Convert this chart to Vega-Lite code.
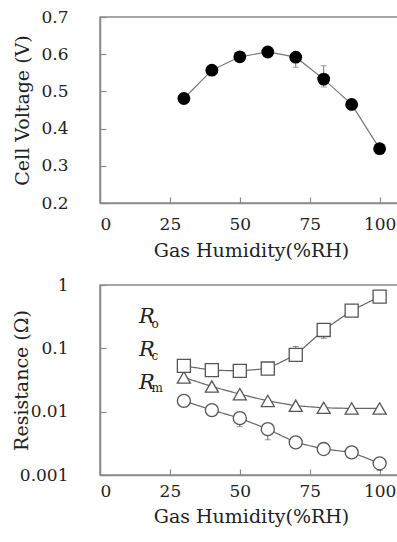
{
  "$schema": "https://vega.github.io/schema/vega-lite/v6.json",
  "padding": {"left": 12, "top": 7, "right": 0, "bottom": 0},
  "background": "white",
  "config": {
    "font": "DejaVu Serif",
    "view": {"stroke": "#8a8a8a", "strokeWidth": 1.5},
    "axis": {
      "grid": false,
      "domainColor": "#8a8a8a",
      "domainWidth": 1.5,
      "tickColor": "#8a8a8a",
      "tickSize": -6,
      "tickWidth": 1.2,
      "labelOverlap": false,
      "labelFont": "DejaVu Serif",
      "labelFontSize": 17,
      "labelColor": "#222",
      "titleFont": "DejaVu Serif",
      "titleFontSize": 19,
      "titleFontWeight": "normal",
      "titleColor": "#222"
    },
    "legend": {"padding": 0},
    "concat": {"spacing": 14}
  },
  "resolve": {
    "scale": {"shape": "independent", "strokeDash": "independent"},
    "legend": {"shape": "independent", "strokeDash": "independent"}
  },
  "datasets": {
    "voltage": [
      {"humidity": 30, "voltage": 0.481},
      {"humidity": 40, "voltage": 0.557},
      {"humidity": 50, "voltage": 0.593},
      {"humidity": 60, "voltage": 0.606},
      {"humidity": 70, "voltage": 0.592},
      {"humidity": 80, "voltage": 0.533},
      {"humidity": 90, "voltage": 0.465},
      {"humidity": 100, "voltage": 0.346}
    ],
    "voltage_err": [
      {"humidity": 70, "low": 0.565, "high": 0.605},
      {"humidity": 80, "low": 0.512, "high": 0.569}
    ],
    "resistance": [
      {"humidity": 30, "series": "Ro", "sub": "o", "value": 0.0347},
      {"humidity": 40, "series": "Ro", "sub": "o", "value": 0.025},
      {"humidity": 50, "series": "Ro", "sub": "o", "value": 0.0189},
      {"humidity": 60, "series": "Ro", "sub": "o", "value": 0.0148},
      {"humidity": 70, "series": "Ro", "sub": "o", "value": 0.0124},
      {"humidity": 80, "series": "Ro", "sub": "o", "value": 0.0115},
      {"humidity": 90, "series": "Ro", "sub": "o", "value": 0.01125},
      {"humidity": 100, "series": "Ro", "sub": "o", "value": 0.01125},
      {"humidity": 30, "series": "Rc", "sub": "c", "value": 0.0148},
      {"humidity": 40, "series": "Rc", "sub": "c", "value": 0.0106},
      {"humidity": 50, "series": "Rc", "sub": "c", "value": 0.0079},
      {"humidity": 60, "series": "Rc", "sub": "c", "value": 0.0053},
      {"humidity": 70, "series": "Rc", "sub": "c", "value": 0.00327},
      {"humidity": 80, "series": "Rc", "sub": "c", "value": 0.00257},
      {"humidity": 90, "series": "Rc", "sub": "c", "value": 0.00228},
      {"humidity": 100, "series": "Rc", "sub": "c", "value": 0.00153},
      {"humidity": 30, "series": "Rm", "sub": "m", "value": 0.0528},
      {"humidity": 40, "series": "Rm", "sub": "m", "value": 0.0452},
      {"humidity": 50, "series": "Rm", "sub": "m", "value": 0.044},
      {"humidity": 60, "series": "Rm", "sub": "m", "value": 0.048},
      {"humidity": 70, "series": "Rm", "sub": "m", "value": 0.0788},
      {"humidity": 80, "series": "Rm", "sub": "m", "value": 0.195},
      {"humidity": 90, "series": "Rm", "sub": "m", "value": 0.395},
      {"humidity": 100, "series": "Rm", "sub": "m", "value": 0.656}
    ],
    "resistance_err": [
      {"humidity": 50, "series": "Ro", "low": 0.0165, "high": 0.0205},
      {"humidity": 50, "series": "Rc", "low": 0.0058, "high": 0.0095},
      {"humidity": 60, "series": "Rc", "low": 0.0036, "high": 0.0065},
      {"humidity": 100, "series": "Rc", "low": 0.00118, "high": 0.0017},
      {"humidity": 70, "series": "Rm", "low": 0.062, "high": 0.107},
      {"humidity": 80, "series": "Rm", "low": 0.144, "high": 0.21}
    ]
  },
  "vconcat": [
    {
      "width": 302,
      "height": 186,
      "layer": [
        {
          "data": {"name": "voltage"},
          "mark": {"type": "line", "color": "#777", "strokeWidth": 1.2},
          "encoding": {
            "x": {"field": "humidity", "type": "quantitative", "scale": {"domain": [0, 108], "nice": false},
                  "axis": {"values": [0, 25, 50, 75, 100], "title": "Gas Humidity(%RH)", "labelPadding": 19, "titlePadding": 9, "labelOverlap": false}},
            "y": {"field": "voltage", "type": "quantitative", "scale": {"domain": [0.2, 0.7], "nice": false, "zero": false},
                  "axis": {"values": [0.2, 0.3, 0.4, 0.5, 0.6, 0.7], "format": ".1f", "title": "Cell Voltage (V)", "labelPadding": 38, "titlePadding": 8.5, "labelOverlap": false}}
          }
        },
        {
          "data": {"name": "voltage_err"},
          "mark": {"type": "errorbar", "color": "#777", "ticks": {"size": 6, "color": "#777"}},
          "encoding": {
            "x": {"field": "humidity", "type": "quantitative", "title": "Gas Humidity(%RH)",
                  "axis": {"values": [0, 25, 50, 75, 100], "title": "Gas Humidity(%RH)", "labelPadding": 19, "titlePadding": 9, "labelOverlap": false}},
            "y": {"field": "low", "type": "quantitative", "title": "Cell Voltage (V)",
                  "axis": {"values": [0.2, 0.3, 0.4, 0.5, 0.6, 0.7], "format": ".1f", "title": "Cell Voltage (V)", "labelPadding": 38, "titlePadding": 8.5, "labelOverlap": false}},
            "y2": {"field": "high"}
          }
        },
        {
          "data": {"name": "voltage"},
          "mark": {"type": "point", "filled": true, "color": "black", "opacity": 1, "size": 165},
          "encoding": {
            "x": {"field": "humidity", "type": "quantitative", "title": "Gas Humidity(%RH)",
                  "axis": {"values": [0, 25, 50, 75, 100], "title": "Gas Humidity(%RH)", "labelPadding": 19, "titlePadding": 9, "labelOverlap": false}},
            "y": {"field": "voltage", "type": "quantitative", "title": "Cell Voltage (V)",
                  "axis": {"values": [0.2, 0.3, 0.4, 0.5, 0.6, 0.7], "format": ".1f", "title": "Cell Voltage (V)", "labelPadding": 38, "titlePadding": 8.5, "labelOverlap": false}}
          }
        }
      ]
    },
    {
      "width": 302,
      "height": 190,
      "resolve": {
        "scale": {"shape": "independent", "strokeDash": "independent"},
        "legend": {"shape": "independent", "strokeDash": "independent"}
      },
      "layer": [
        {
          "data": {"name": "resistance"},
          "mark": {"type": "line", "color": "#666", "strokeWidth": 1.2},
          "encoding": {
            "x": {"field": "humidity", "type": "quantitative", "scale": {"domain": [0, 108], "nice": false},
                  "axis": {"values": [0, 25, 50, 75, 100], "title": "Gas Humidity(%RH)", "labelPadding": 14.5, "titlePadding": 7.5, "labelOverlap": false}},
            "y": {"field": "value", "type": "quantitative", "scale": {"type": "log", "domain": [0.001, 1], "nice": false},
                  "axis": {"values": [0.001, 0.01, 0.1, 1], "format": "~g", "title": "Resistance (Ω)", "labelPadding": 38, "titlePadding": -12.5, "labelOverlap": false}},
            "detail": {"field": "series"},
            "strokeDash": {
              "field": "sub", "type": "nominal",
              "scale": {"domain": ["o", "c", "m"], "range": [[1, 0], [1, 0], [1, 0]]},
              "legend": {
                "orient": "none", "legendX": 19, "legendY": 24.3, "title": null,
                "symbolSize": 900, "symbolOpacity": 0, "symbolStrokeWidth": 0,
                "labelFont": "DejaVu Serif", "labelFontSize": 12, "labelColor": "#222",
                "labelOffset": 2.5, "rowPadding": 10.8
              }
            }
          }
        },
        {
          "data": {"name": "resistance_err"},
          "mark": {"type": "errorbar", "color": "#666", "ticks": {"size": 6, "color": "#666"}},
          "encoding": {
            "x": {"field": "humidity", "type": "quantitative", "title": "Gas Humidity(%RH)"},
            "y": {"field": "low", "type": "quantitative", "title": "Resistance (Ω)"},
            "y2": {"field": "high"},
            "detail": {"field": "series"}
          }
        },
        {
          "data": {"name": "resistance"},
          "mark": {"type": "point", "filled": false, "color": "#555", "fill": "white", "fillOpacity": 1, "strokeWidth": 1.3, "opacity": 1, "size": 170},
          "encoding": {
            "x": {"field": "humidity", "type": "quantitative", "title": "Gas Humidity(%RH)"},
            "y": {"field": "value", "type": "quantitative", "title": "Resistance (Ω)"},
            "shape": {
              "field": "series", "type": "nominal",
              "scale": {"domain": ["Ro", "Rc", "Rm"], "range": ["triangle-up", "circle", "square"]},
              "legend": {
                "orient": "none", "legendX": 8, "legendY": 21.6, "title": null,
                "symbolSize": 140, "symbolStrokeWidth": 1.2, "symbolStrokeColor": "#555", "symbolFillColor": "white", "symbolOpacity": 1,
                "labelFont": "DejaVu Serif", "labelFontSize": 21, "labelFontStyle": "italic", "labelColor": "#222",
                "labelExpr": "'R'", "labelOffset": 10, "rowPadding": 10.8
              }
            }
          }
        }
      ]
    }
  ]
}
